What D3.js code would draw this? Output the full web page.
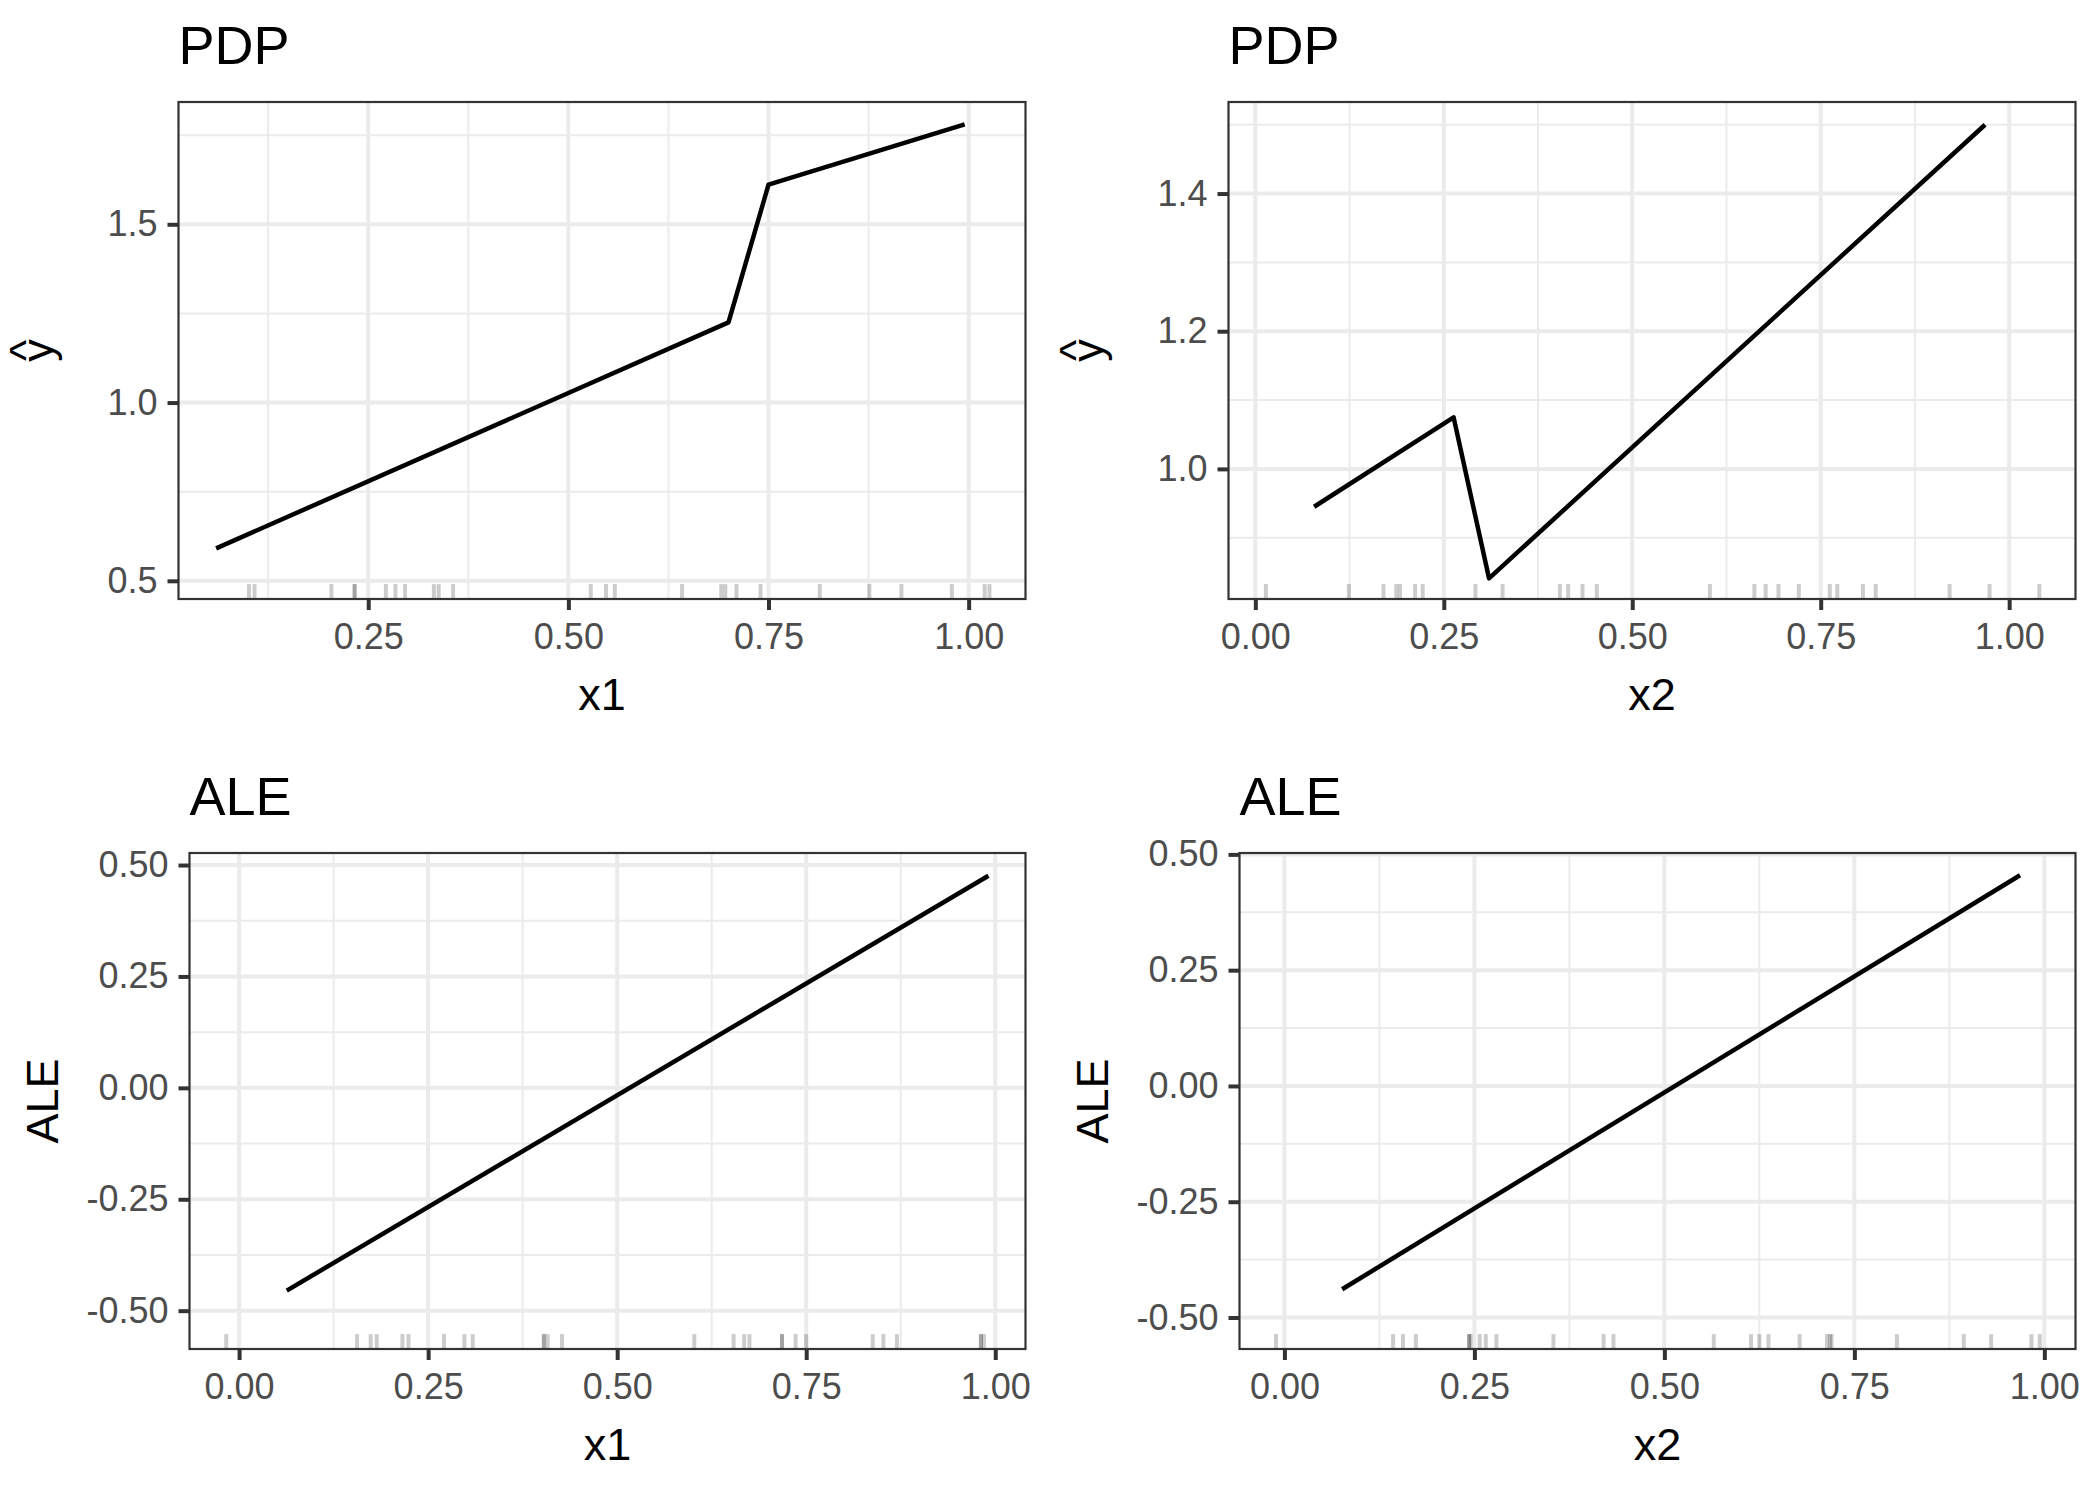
<!DOCTYPE html>
<html>
<head>
<meta charset="utf-8">
<script src="https://cdn.jsdelivr.net/npm/d3@7"></script>
<style>
  body { margin: 0; background: #fff; }
  text { font-family: "Liberation Sans", Arial, sans-serif; }
</style>
</head>
<body>
<div id="chart"></div>
<script>
// PDP / ALE curves
const pdpX1 = [0.060, 0.700, 0.750, 0.995];
const pdpX1Yhat = [0.591, 1.225, 1.611, 1.780];
const pdpX2 = [0.078, 0.263, 0.310, 0.968];
const pdpX2Yhat = [0.945, 1.075, 0.841, 1.500];
const aleX1 = [0.063, 0.991];
const aleX1Val = [-0.455, 0.476];
const aleX2 = [0.076, 0.968];
const aleX2Val = [-0.439, 0.455];

// rug positions (observed feature values)
const pdpRugX1 = [0.101, 0.108, 0.204, 0.233, 0.233, 0.272, 0.284, 0.296, 0.332, 0.338, 0.356,
  0.528, 0.547, 0.558, 0.642, 0.691, 0.696, 0.710, 0.740, 0.814, 0.876, 0.916, 0.979, 1.020, 1.026];
const pdpRugX2 = [0.014, 0.124, 0.170, 0.187, 0.192, 0.212, 0.222, 0.292, 0.328, 0.404, 0.415,
  0.434, 0.453, 0.603, 0.662, 0.677, 0.694, 0.721, 0.762, 0.772, 0.806, 0.823, 0.921, 0.974, 1.040];
const aleRugX1 = [-0.017, 0.156, 0.174, 0.182, 0.216, 0.224, 0.271, 0.298, 0.309, 0.403, 0.403,
  0.408, 0.427, 0.602, 0.654, 0.668, 0.675, 0.718, 0.718, 0.736, 0.750, 0.838, 0.852, 0.870, 0.981, 0.981, 0.985];
const aleRugX2 = [-0.011, 0.143, 0.156, 0.173, 0.243, 0.243, 0.245, 0.257, 0.265, 0.279, 0.354,
  0.420, 0.433, 0.565, 0.614, 0.625, 0.637, 0.678, 0.714, 0.718, 0.720, 0.806, 0.894, 0.930, 0.983, 0.994];

// axis ticks
const pdp1XTicks = [0.25, 0.5, 0.75, 1.0];
const pdp1YTicks = [0.5, 1.0, 1.5];
const pdp2XTicks = [0, 0.25, 0.5, 0.75, 1.0];
const pdp2YTicks = [1.0, 1.2, 1.4];
const aleXTicks = [0, 0.25, 0.5, 0.75, 1.0];
const aleYTicks = [-0.5, -0.25, 0, 0.25, 0.5];

const panels = [
  {title: "PDP", xlab: "x1", ylab: "yhat", xs: pdpX1, ys: pdpX1Yhat, rug: pdpRugX1,
   xTicks: pdp1XTicks, yTicks: pdp1YTicks, xFmt: ".2f", yFmt: ".1f",
   xDom: [0.013, 1.071], yDom: [0.449, 1.843], left: 178.5, right: 1025.5, top: 102, bottom: 599},
  {title: "PDP", xlab: "x2", ylab: "yhat", xs: pdpX2, ys: pdpX2Yhat, rug: pdpRugX2,
   xTicks: pdp2XTicks, yTicks: pdp2YTicks, xFmt: ".2f", yFmt: ".1f",
   xDom: [-0.0356, 1.088], yDom: [0.811, 1.533], left: 1228.5, right: 2075.5, top: 102, bottom: 599},
  {title: "ALE", xlab: "x1", ylab: "ALE", xs: aleX1, ys: aleX1Val, rug: aleRugX1,
   xTicks: aleXTicks, yTicks: aleYTicks, xFmt: ".2f", yFmt: ".2f",
   xDom: [-0.0656, 1.040], yDom: [-0.586, 0.527], left: 189.5, right: 1025.5, top: 853, bottom: 1349},
  {title: "ALE", xlab: "x2", ylab: "ALE", xs: aleX2, ys: aleX2Val, rug: aleRugX2,
   xTicks: aleXTicks, yTicks: aleYTicks, xFmt: ".2f", yFmt: ".2f",
   xDom: [-0.0591, 1.041], yDom: [-0.568, 0.503], left: 1239.5, right: 2075.5, top: 853, bottom: 1349}
];

const svg = d3.select("#chart")
  .append("svg")
    .attr("width", 2100)
    .attr("height", 1500);

svg.append("rect").attr("width", 2100).attr("height", 1500).attr("fill", "#fff");

// minor breaks sit half way between the major ones
function minorBreaks(ticks, dom) {
  const step = ticks[1] - ticks[0];
  const out = [];
  for (let v = ticks[0] - step / 2; v <= ticks[ticks.length - 1] + step / 2 + 1e-9; v += step) {
    if (v >= dom[0] && v <= dom[1]) out.push(v);
  }
  return out;
}

panels.forEach(p => {
  const x = d3.scaleLinear().domain(p.xDom).range([p.left, p.right]);
  const y = d3.scaleLinear().domain(p.yDom).range([p.bottom, p.top]);
  const g = svg.append("g");

  // grid
  g.selectAll(".gxminor").data(minorBreaks(p.xTicks, p.xDom)).enter().append("line")
    .attr("x1", d => x(d)).attr("x2", d => x(d)).attr("y1", p.top).attr("y2", p.bottom)
    .attr("stroke", "#ebebeb").attr("stroke-width", 2);
  g.selectAll(".gyminor").data(minorBreaks(p.yTicks, p.yDom)).enter().append("line")
    .attr("y1", d => y(d)).attr("y2", d => y(d)).attr("x1", p.left).attr("x2", p.right)
    .attr("stroke", "#ebebeb").attr("stroke-width", 2);
  g.selectAll(".gxmajor").data(p.xTicks).enter().append("line")
    .attr("x1", d => x(d)).attr("x2", d => x(d)).attr("y1", p.top).attr("y2", p.bottom)
    .attr("stroke", "#ebebeb").attr("stroke-width", 4);
  g.selectAll(".gymajor").data(p.yTicks).enter().append("line")
    .attr("y1", d => y(d)).attr("y2", d => y(d)).attr("x1", p.left).attr("x2", p.right)
    .attr("stroke", "#ebebeb").attr("stroke-width", 4);

  // rug
  const rugLen = 0.03 * (p.bottom - p.top);
  g.selectAll(".rug").data(p.rug).enter().append("line")
    .attr("x1", d => x(d)).attr("x2", d => x(d))
    .attr("y1", p.bottom).attr("y2", p.bottom - rugLen)
    .attr("stroke", "#000").attr("stroke-opacity", 0.2).attr("stroke-width", 4);

  // curve
  const line = d3.line()
    .x(d => x(d[0]))
    .y(d => y(d[1]));
  g.append("path")
    .datum(d3.zip(p.xs, p.ys))
    .attr("fill", "none")
    .attr("stroke", "#000")
    .attr("stroke-width", 4.5)
    .attr("stroke-linejoin", "round")
    .attr("d", line);

  // border
  g.append("rect")
    .attr("x", p.left).attr("y", p.top)
    .attr("width", p.right - p.left).attr("height", p.bottom - p.top)
    .attr("fill", "none").attr("stroke", "#333").attr("stroke-width", 2.2);

  // axes
  const xAxis = g.append("g")
    .attr("transform", `translate(0,${p.bottom})`)
    .call(d3.axisBottom(x).tickValues(p.xTicks).tickFormat(d3.format(p.xFmt))
      .tickSize(11).tickPadding(13));
  const yAxis = g.append("g")
    .attr("transform", `translate(${p.left},0)`)
    .call(d3.axisLeft(y).tickValues(p.yTicks).tickFormat(d3.format(p.yFmt))
      .tickSize(11).tickPadding(10));
  [xAxis, yAxis].forEach(a => {
    a.select(".domain").remove();
    a.selectAll(".tick line").attr("stroke", "#333").attr("stroke-width", 4);
    a.selectAll(".tick text")
      .attr("fill", "#4d4d4d")
      .style("font-size", "36px")
      .style("font-family", "'Liberation Sans', Arial, sans-serif");
  });
  yAxis.selectAll(".tick text").text(function() { return this.textContent.replace("\u2212", "-"); });

  // titles
  g.append("text")
    .attr("x", p.left).attr("y", p.top - 38)
    .style("font-size", "54px")
    .attr("fill", "#000")
    .text(p.title);

  g.append("text")
    .attr("text-anchor", "middle")
    .attr("x", (p.left + p.right) / 2)
    .attr("y", p.bottom + 111)
    .style("font-size", "45px")
    .attr("fill", "#000")
    .text(p.xlab);

  // y title, rotated; the hat of y-hat is drawn as a separate caret above the y
  const yt = g.append("g")
    .attr("transform", `translate(${p.ylab === "ALE" ? p.left - 131.5 : p.left - 126},${(p.top + p.bottom) / 2}) rotate(-90)`);
  if (p.ylab === "yhat") {
    yt.append("text")
      .attr("text-anchor", "middle")
      .style("font-size", "45px")
      .attr("fill", "#000")
      .text("y");
    yt.append("text")
      .attr("text-anchor", "middle")
      .attr("y", -12)
      .style("font-size", "45px")
      .attr("fill", "#000")
      .text("^");
  } else {
    yt.append("text")
      .attr("text-anchor", "middle")
      .style("font-size", "45px")
      .attr("fill", "#000")
      .text(p.ylab);
  }
});
</script>
</body>
</html>
